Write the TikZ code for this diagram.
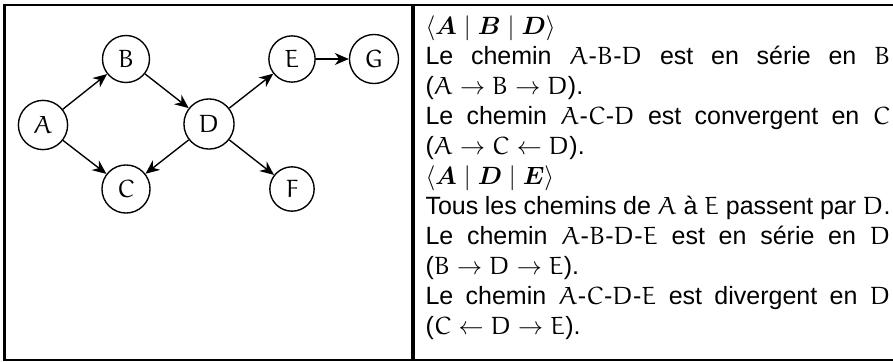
\documentclass[tikz,border=0pt]{standalone}
\usepackage{amsmath}
\usepackage{bm}
\usepackage[no-math]{fontspec}
\setmainfont{Liberation Sans}
\usetikzlibrary{arrows.meta}
% Euler upright letters for the variable names
\DeclareMathAlphabet{\mathEul}{U}{eur}{m}{n}
\newcommand{\V}[1]{\ensuremath{\mathEul{#1}}}
\tikzset{
  var/.style={circle, draw, line width=0.55pt, inner sep=3.3pt, font=\normalsize},
  edge/.style={line width=0.55pt, -{Stealth[length=5.6pt,width=4.8pt,inset=1.8pt]}},
  rule/.style={line width=1pt},
  divider/.style={line width=1.4pt}
}
\begin{document}
\begin{tikzpicture}[x=0.4pt, y=0.4pt]
  \useasboundingbox (0,0) rectangle (893,361);

  % table frame
  \coordinate (tl) at (3,356);
  \coordinate (tr) at (893,356);
  \coordinate (bl) at (3,1);
  \coordinate (br) at (893,1);
  \coordinate (lt) at (4.5,357);
  \coordinate (lb) at (4.5,0);
  \coordinate (mt) at (413,357);
  \coordinate (mb) at (413,0);
  \draw[rule] (tl) -- (tr);
  \draw[rule] (bl) -- (br);
  \draw[rule] (lt) -- (lb);
  \draw[divider] (mt) -- (mb);

  % the graph
  \node[var] (A) at (43,236) {$\mathEul{A}$};
  \node[var] (B) at (126,302) {$\mathEul{B}$};
  \node[var] (C) at (126,172) {$\mathEul{C}$};
  \node[var] (D) at (209,237) {$\mathEul{D}$};
  \node[var] (E) at (292,302) {$\mathEul{E}$};
  \node[var] (F) at (292,172) {$\mathEul{F}$};
  \node[var] (G) at (374,302) {$\mathEul{G}$};

  \draw[edge] (A) -- (B);
  \draw[edge] (A) -- (C);
  \draw[edge] (B) -- (D);
  \draw[edge] (D) -- (C);
  \draw[edge] (D) -- (E);
  \draw[edge] (D) -- (F);
  \draw[edge] (E) -- (G);

  % explanations
  \node[anchor=north west, inner sep=0pt, text width=186pt, align=justify,
        font=\fontsize{10}{12}\selectfont] (txt) at (425,346) {%
    $\langle\bm{A}\mid\bm{B}\mid\bm{D}\rangle$\\
    Le chemin \V{A}-\V{B}-\V{D} est en série en \V{B}\linebreak
    ($\mathEul{A}\rightarrow\mathEul{B}\rightarrow\mathEul{D}$).\\
    Le chemin \V{A}-\V{C}-\V{D} est convergent en \V{C}\linebreak
    ($\mathEul{A}\rightarrow\mathEul{C}\leftarrow\mathEul{D}$).\\
    $\langle\bm{A}\mid\bm{D}\mid\bm{E}\rangle$\\
    Tous les chemins de \V{A} à \V{E} passent par \V{D}.\\
    Le chemin \V{A}-\V{B}-\V{D}-\V{E} est en série en \V{D}\linebreak
    ($\mathEul{B}\rightarrow\mathEul{D}\rightarrow\mathEul{E}$).\\
    Le chemin \V{A}-\V{C}-\V{D}-\V{E} est divergent en \V{D}\linebreak
    ($\mathEul{C}\leftarrow\mathEul{D}\rightarrow\mathEul{E}$).};
\end{tikzpicture}
\end{document}
